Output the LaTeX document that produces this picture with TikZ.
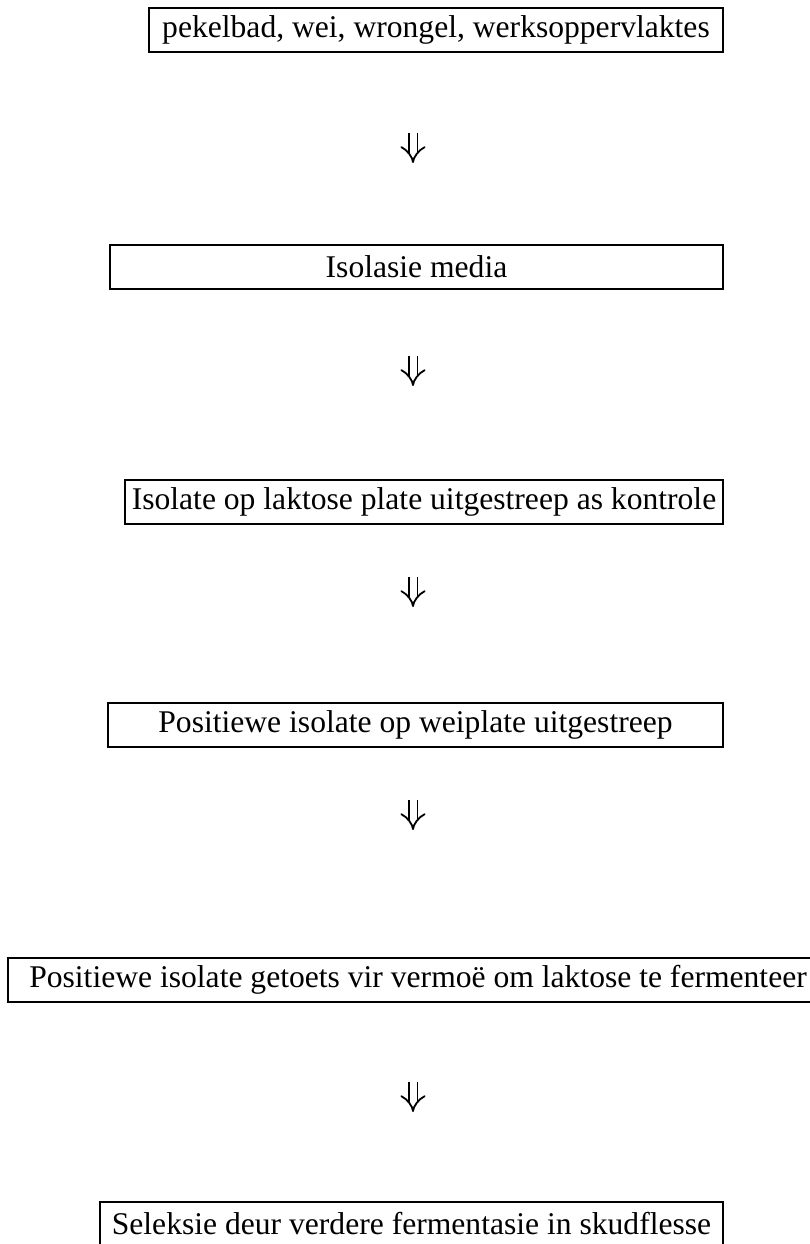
\documentclass[tikz,border=0pt]{standalone}
\usepackage{fontspec}
\setmainfont{Liberation Serif}
\usetikzlibrary{arrows.meta}

\begin{document}
\begin{tikzpicture}[x=1pt, y=-1pt, stage/.style={rectangle, draw, line width=2pt, minimum height=44pt, inner sep=0pt, font=\fontsize{31.6}{36}\selectfont}, flow/.style={double, double distance=7pt, line width=1.8pt, -{Implies}}]

	\useasboundingbox (0,0) rectangle (810,1244);
	\clip (0,0) rectangle (810,1244);

	\node[stage, minimum width=574pt] at (436, 30) (source) {pekelbad, wei, wrongel, werksoppervlaktes};
	\node[stage, minimum width=613pt] at (416.5, 267) (media) {Isolasie media};
	\node[stage, minimum width=598pt] at (424, 502) (control) {Isolate op laktose plate uitgestreep as kontrole};
	\node[stage, minimum width=615pt] at (415.5, 725) (wheyplate) {Positiewe isolate op weiplate uitgestreep};
	\node[stage, minimum width=820pt] at (418, 980) (lactose) {Positiewe isolate getoets vir vermoë om laktose te fermenteer};
	\node[stage, minimum width=623pt] at (411.5, 1224) (shake) {Seleksie deur verdere fermentasie in skudflesse};

	\coordinate (arrow1top) at (413, 133);
	\coordinate (arrow1end) at (413, 163);
	\coordinate (arrow2top) at (413, 356);
	\coordinate (arrow2end) at (413, 386);
	\coordinate (arrow3top) at (413, 577);
	\coordinate (arrow3end) at (413, 607);
	\coordinate (arrow4top) at (413, 800);
	\coordinate (arrow4end) at (413, 830);
	\coordinate (arrow5top) at (413, 1082);
	\coordinate (arrow5end) at (413, 1112);

	\draw[flow] (arrow1top) -- (arrow1end);
	\draw[flow] (arrow2top) -- (arrow2end);
	\draw[flow] (arrow3top) -- (arrow3end);
	\draw[flow] (arrow4top) -- (arrow4end);
	\draw[flow] (arrow5top) -- (arrow5end);
\end{tikzpicture}
\end{document}
